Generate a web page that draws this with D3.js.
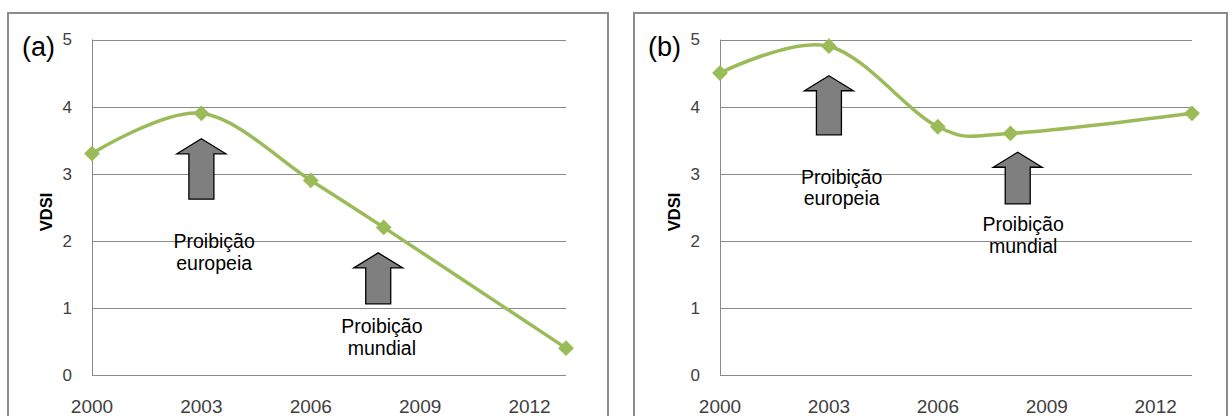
<!DOCTYPE html>
<html>
<head>
<meta charset="utf-8">
<script src="https://cdn.jsdelivr.net/npm/d3@7"></script>
<style>
  body { margin: 0; background: #fff; }
  svg { display: block; font-family: "Liberation Sans", Arial, sans-serif; }
</style>
</head>
<body>
<div id="chart"></div>
<script>
const width = 1231;
const height = 416;

// Data
const years = [2000, 2003, 2006, 2008, 2013];
const vdsiA = [3.3, 3.9, 2.9, 2.2, 0.4];
const vdsiB = [4.5, 4.9, 3.7, 3.6, 3.9];
const xTicks = [2000, 2003, 2006, 2009, 2012];
const yTicks = [0, 1, 2, 3, 4, 5];
const panelLabels = ["(a)", "(b)"];
const yLabel = "VDSI";

// Annotations: arrow (year, tip value, bottom value) and two-line caption
const arrowsA = [
  { year: 2003.0, tip: 3.52, base: 2.62 },
  { year: 2007.85, tip: 1.82, base: 1.06 }
];
const arrowsB = [
  { year: 2003.0, tip: 4.46, base: 3.58 },
  { year: 2008.2, tip: 3.32, base: 2.55 }
];
const captionsA = [
  { year: 2003.35, value: 1.89, lines: ["Proibição", "europeia"] },
  { year: 2007.95, value: 0.62, lines: ["Proibição", "mundial"] }
];
const captionsB = [
  { year: 2003.35, value: 2.85, lines: ["Proibição", "europeia"] },
  { year: 2008.35, value: 2.14, lines: ["Proibição", "mundial"] }
];

const lineColor = "#9bbb59";
const gridColor = "#8a8a8a";

const svg = d3.select("#chart").append("svg")
  .attr("width", width)
  .attr("height", height);

const yScale = d3.scaleLinear().domain([0, 5]).range([375, 39.5]);

function drawPanel(opts) {
  const g = svg.append("g");

  // outer frame (bottom is cut off by the picture)
  g.append("rect")
    .attr("x", opts.frame[0])
    .attr("y", 13)
    .attr("width", opts.frame[1] - opts.frame[0])
    .attr("height", 440)
    .attr("fill", "none")
    .attr("stroke", "#8c8c8c")
    .attr("stroke-width", 2);

  const xScale = d3.scaleLinear()
    .domain([2000, 2013])
    .range(opts.plot);

  // gridlines
  g.selectAll(".grid")
    .data(yTicks)
    .enter().append("line")
    .attr("x1", opts.plot[0])
    .attr("x2", opts.plot[1])
    .attr("y1", d => Math.round(yScale(d)) + 0.5)
    .attr("y2", d => Math.round(yScale(d)) + 0.5)
    .attr("stroke", gridColor)
    .attr("stroke-width", 1);

  // vertical axis line
  g.append("line")
    .attr("x1", opts.plot[0] + 0.5)
    .attr("x2", opts.plot[0] + 0.5)
    .attr("y1", yScale(5))
    .attr("y2", yScale(0))
    .attr("stroke", gridColor);

  // y tick labels
  g.selectAll(".ytick")
    .data(yTicks)
    .enter().append("text")
    .attr("x", opts.plot[0] - 20)
    .attr("y", d => yScale(d))
    .attr("dy", "0.35em")
    .attr("text-anchor", "end")
    .attr("font-size", 17)
    .attr("fill", "#404040")
    .text(d => d);

  // x tick labels
  g.selectAll(".xtick")
    .data(xTicks)
    .enter().append("text")
    .attr("x", d => xScale(d))
    .attr("y", 413)
    .attr("text-anchor", "middle")
    .attr("font-size", 19)
    .attr("fill", "#404040")
    .text(d => d);

  // y axis title
  g.append("text")
    .attr("transform", `translate(${opts.plot[0] - 40},212) rotate(-90)`)
    .attr("text-anchor", "middle")
    .attr("font-size", 16.5)
    .attr("font-weight", "bold")
    .attr("fill", "#000")
    .text(yLabel);

  // panel label
  g.append("text")
    .attr("x", opts.frame[0] + 14)
    .attr("y", 56)
    .attr("font-size", 27)
    .attr("fill", "#000")
    .text(opts.label);

  // arrows
  const headH = 15, headW = 24.5, shaftW = 12.5;
  g.selectAll(".arrow")
    .data(opts.arrows)
    .enter().append("path")
    .attr("d", d => {
      const x = xScale(d.year), t = yScale(d.tip), b = yScale(d.base);
      return `M${x},${t} L${x + headW},${t + headH} L${x + shaftW},${t + headH}` +
        ` L${x + shaftW},${b} L${x - shaftW},${b} L${x - shaftW},${t + headH}` +
        ` L${x - headW},${t + headH} Z`;
    })
    .attr("fill", "#7f7f7f")
    .attr("stroke", "#000")
    .attr("stroke-width", 1.3);

  // captions
  opts.captions.forEach(c => {
    const t = g.append("text")
      .attr("x", xScale(c.year))
      .attr("y", yScale(c.value))
      .attr("text-anchor", "middle")
      .attr("font-size", 19.5)
      .attr("fill", "#000");
    c.lines.forEach((l, i) => {
      t.append("tspan")
        .attr("x", xScale(c.year))
        .attr("dy", i === 0 ? 0 : 21.5)
        .text(l);
    });
  });

  // smoothed series line
  const line = d3.line()
    .x((d, i) => xScale(years[i]))
    .y(d => yScale(d))
    .curve(d3.curveCardinal.tension(0));

  g.append("path")
    .datum(opts.values)
    .attr("d", line)
    .attr("fill", "none")
    .attr("stroke", lineColor)
    .attr("stroke-width", 3.5);

  // diamond markers
  g.selectAll(".marker")
    .data(opts.values)
    .enter().append("path")
    .attr("d", d3.symbol().type(d3.symbolSquare).size(125))
    .attr("transform", (d, i) => `translate(${xScale(years[i])},${yScale(d)}) rotate(45)`)
    .attr("fill", lineColor);
}

drawPanel({
  frame: [8, 608],
  plot: [92, 566],
  label: panelLabels[0],
  values: vdsiA,
  arrows: arrowsA,
  captions: captionsA
});

drawPanel({
  frame: [634, 1227],
  plot: [720, 1192],
  label: panelLabels[1],
  values: vdsiB,
  arrows: arrowsB,
  captions: captionsB
});
</script>
</body>
</html>
